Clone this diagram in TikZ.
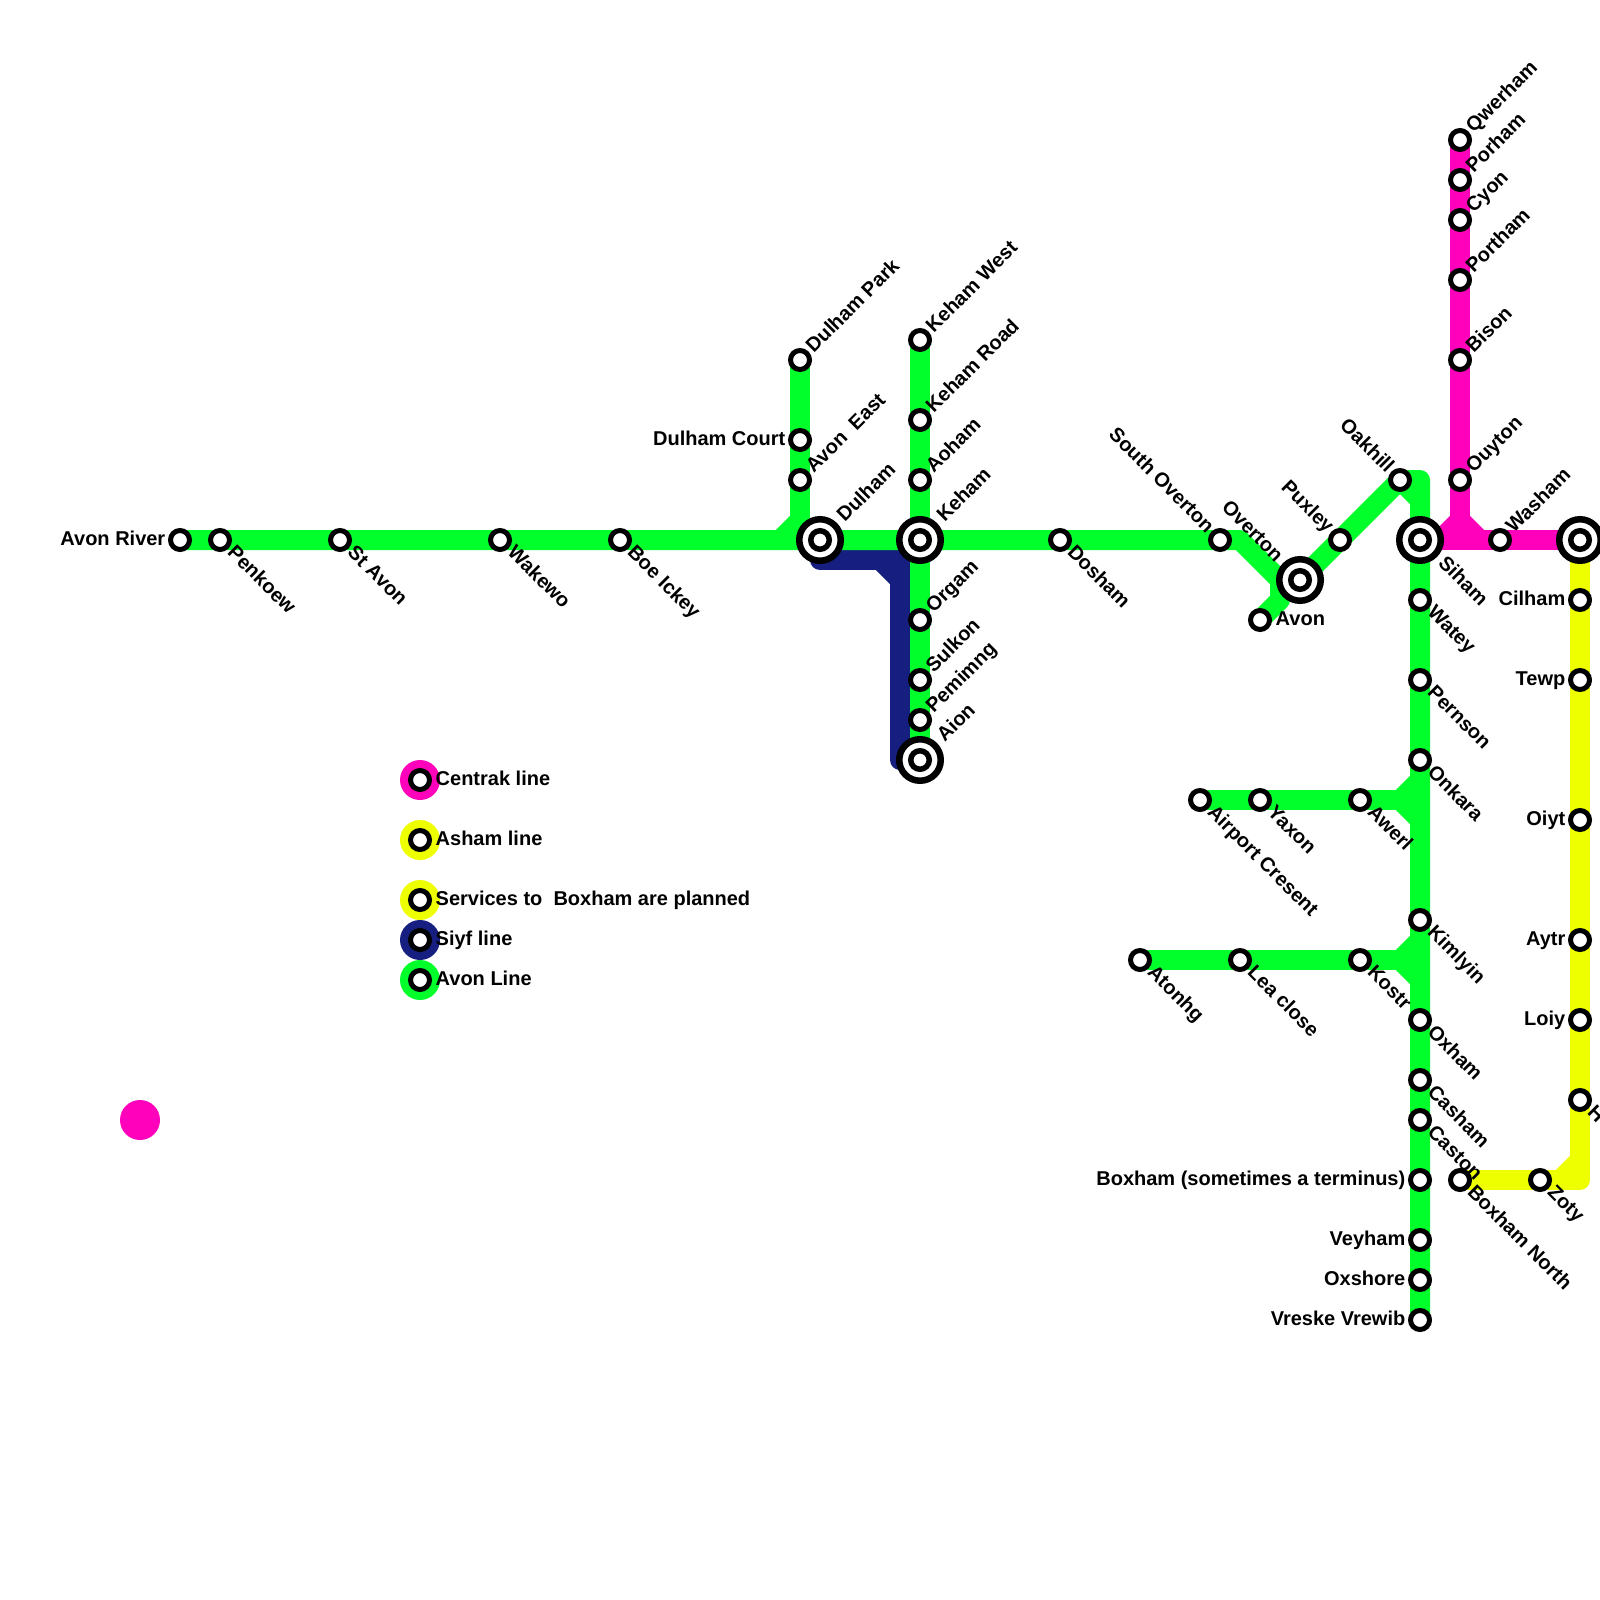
\documentclass[tikz,border=0pt]{standalone}
\usepackage{fontspec}
\setmainfont{Liberation Sans}
\usetikzlibrary{backgrounds}
\definecolor{avongreen}{HTML}{00FF2B}
\definecolor{centrakpink}{HTML}{FF00BB}
\definecolor{ashamyellow}{HTML}{EEFF00}
\definecolor{siyfblue}{HTML}{161F7F}
\begin{document}
\begin{tikzpicture}[
  x=1mm, y=-1mm,
  every node/.style={font=\fontsize{5.69pt}{6pt}\selectfont\bfseries},
  stn/.style={circle, draw=black, fill=white, line width=0.5mm, minimum size=1.9mm, inner sep=0pt},
  hub/.style={circle, draw=black, fill=white, line width=0.65mm, minimum size=4.15mm, inner sep=0pt},
  hubin/.style={circle, draw=black, fill=white, line width=0.55mm, minimum size=1.85mm, inner sep=0pt},
  dot/.style={circle, fill=#1, minimum size=4mm, inner sep=0pt},
  line/.style={line width=2mm, line join=round, line cap=butt, draw=#1},
  lne/.style={rotate=45, yshift=-0.55mm, anchor=base west, inner xsep=1.35mm, inner ysep=0pt},
  lse/.style={rotate=-45, yshift=-0.5mm, anchor=base west, inner xsep=1.35mm, inner ysep=0pt},
  lnw/.style={rotate=-45, yshift=-0.55mm, anchor=base east, inner xsep=1.35mm, inner ysep=0pt},
  lhe/.style={rotate=45, yshift=-0.55mm, anchor=base west, inner xsep=2.9mm, inner ysep=0pt},
  lsh/.style={rotate=-45, yshift=-0.5mm, anchor=base west, inner xsep=2.9mm, inner ysep=0pt},
  lhw/.style={rotate=-45, yshift=-0.55mm, anchor=base east, inner xsep=2.9mm, inner ysep=0pt},
  lleft/.style={anchor=base east, inner xsep=1.4mm, inner ysep=0pt, yshift=-0.5mm},
  lright/.style={anchor=base west, inner xsep=1.5mm, inner ysep=0pt, yshift=-0.5mm},
  keytxt/.style={anchor=base west, inner sep=0pt, yshift=-0.5mm}
]
  \clip (0,0) rectangle (160,160);

  % legend
  \node[dot=centrakpink] (dotcentrak) at (42,78) {};
  \node[dot=ashamyellow] (dotasham) at (42,84) {};
  \node[dot=ashamyellow] (dotplanned) at (42,90) {};
  \node[dot=siyfblue] (dotsiyf) at (42,94) {};
  \node[dot=avongreen] (dotavon) at (42,98) {};
  \node[dot=centrakpink] (dotlone) at (14,112) {};
  \node[stn] (keycentrak) at (42,78) {};
  \node[stn] (keyasham) at (42,84) {};
  \node[stn] (keyplanned) at (42,90) {};
  \node[stn] (keysiyf) at (42,94) {};
  \node[stn] (keyavon) at (42,98) {};
  \node[keytxt] (txtcentrak) at (43.5,78) {Centrak line};
  \node[keytxt] (txtasham) at (43.5,84) {Asham line};
  \node[keytxt] (txtplanned) at (43.5,90) {Services to\ \ Boxham are planned};
  \node[keytxt] (txtsiyf) at (43.5,94) {Siyf line};
  \node[keytxt] (txtavon) at (43.5,98) {Avon Line};

  % main east-west stations
  \node[stn] (avonriver) at (18,54) {}; \node[lleft] (lavonriver) at (18,54) {Avon River};
  \node[stn] (penkoew) at (22,54) {}; \node[lse] (lpenkoew) at (22,54) {Penkoew};
  \node[stn] (stavon) at (34,54) {}; \node[lse] (lstavon) at (34,54) {St Avon};
  \node[stn] (wakewo) at (50,54) {}; \node[lse] (lwakewo) at (50,54) {Wakewo};
  \node[stn] (boeickey) at (62,54) {}; \node[lse] (lboeickey) at (62,54) {Boe Ickey};
  \node[hub] (dulham) at (82,54) {}; \node[hubin] (dulhamin) at (82,54) {}; \node[lhe] (ldulham) at (82,54) {Dulham};
  \node[hub] (keham) at (92,54) {}; \node[hubin] (kehamin) at (92,54) {}; \node[lhe] (lkeham) at (92,54) {Keham};
  \node[stn] (dosham) at (106,54) {}; \node[lse] (ldosham) at (106,54) {Dosham};
  \node[stn] (southoverton) at (122,54) {}; \node[lnw] (lsouthoverton) at (122,54) {South Overton};
  \node[hub] (overton) at (130,58) {}; \node[hubin] (overtonin) at (130,58) {}; \node[lhw] (loverton) at (130,58) {Overton};
  \node[stn] (avon) at (126,62) {}; \node[lright] (lavon) at (126,62) {Avon};
  \node[stn] (puxley) at (134,54) {}; \node[lnw] (lpuxley) at (134,54) {Puxley};
  \node[stn] (oakhill) at (140,48) {}; \node[lnw] (loakhill) at (140,48) {Oakhill};

  % dulham branch
  \node[stn] (dulhampark) at (80,36) {}; \node[lne] (ldulhampark) at (80,36) {Dulham Park};
  \node[stn] (dulhamcourt) at (80,44) {}; \node[lleft] (ldulhamcourt) at (80,44) {Dulham Court};
  \node[stn] (avoneast) at (80,48) {}; \node[lne] (lavoneast) at (80,48) {Avon\ \ East};

  % keham branch
  \node[stn] (kehamwest) at (92,34) {}; \node[lne] (lkehamwest) at (92,34) {Keham West};
  \node[stn] (kehamroad) at (92,42) {}; \node[lne] (lkehamroad) at (92,42) {Keham Road};
  \node[stn] (aoham) at (92,48) {}; \node[lne] (laoham) at (92,48) {Aoham};
  \node[stn] (orgam) at (92,62) {}; \node[lne] (lorgam) at (92,62) {Orgam};
  \node[stn] (sulkon) at (92,68) {}; \node[lne] (lsulkon) at (92,68) {Sulkon};
  \node[stn] (pemimng) at (92,72) {}; \node[lne] (lpemimng) at (92,72) {Pemimng};
  \node[hub] (aion) at (92,76) {}; \node[hubin] (aionin) at (92,76) {}; \node[lhe] (laion) at (92,76) {Aion};

  % north-south trunk
  \node[hub] (siham) at (142,54) {}; \node[hubin] (sihamin) at (142,54) {}; \node[lsh] (lsiham) at (142,54) {Siham};
  \node[stn] (watey) at (142,60) {}; \node[lse] (lwatey) at (142,60) {Watey};
  \node[stn] (pernson) at (142,68) {}; \node[lse] (lpernson) at (142,68) {Pernson};
  \node[stn] (onkara) at (142,76) {}; \node[lse] (lonkara) at (142,76) {Onkara};
  \node[stn] (kimlyin) at (142,92) {}; \node[lse] (lkimlyin) at (142,92) {Kimlyin};
  \node[stn] (oxham) at (142,102) {}; \node[lse] (loxham) at (142,102) {Oxham};
  \node[stn] (casham) at (142,108) {}; \node[lse] (lcasham) at (142,108) {Casham};
  \node[stn] (caston) at (142,112) {}; \node[lse] (lcaston) at (142,112) {Caston};
  \node[stn] (boxham) at (142,118) {}; \node[lleft] (lboxham) at (142,118) {Boxham (sometimes a terminus)};
  \node[stn] (veyham) at (142,124) {}; \node[lleft] (lveyham) at (142,124) {Veyham};
  \node[stn] (oxshore) at (142,128) {}; \node[lleft] (loxshore) at (142,128) {Oxshore};
  \node[stn] (vreske) at (142,132) {}; \node[lleft] (lvreske) at (142,132) {Vreske Vrewib};

  % side branches
  \node[stn] (airport) at (120,80) {}; \node[lse] (lairport) at (120,80) {Airport Cresent};
  \node[stn] (yaxon) at (126,80) {}; \node[lse] (lyaxon) at (126,80) {Yaxon};
  \node[stn] (awerl) at (136,80) {}; \node[lse] (lawerl) at (136,80) {Awerl};
  \node[stn] (atonhg) at (114,96) {}; \node[lse] (latonhg) at (114,96) {Atonhg};
  \node[stn] (leaclose) at (124,96) {}; \node[lse] (lleaclose) at (124,96) {Lea close};
  \node[stn] (kostr) at (136,96) {}; \node[lse] (lkostr) at (136,96) {Kostr};

  % centrak line
  \node[stn] (qwerham) at (146,14) {}; \node[lne] (lqwerham) at (146,14) {Qwerham};
  \node[stn] (porham) at (146,18) {}; \node[lne] (lporham) at (146,18) {Porham};
  \node[stn] (cyon) at (146,22) {}; \node[lne] (lcyon) at (146,22) {Cyon};
  \node[stn] (portham) at (146,28) {}; \node[lne] (lportham) at (146,28) {Portham};
  \node[stn] (bison) at (146,36) {}; \node[lne] (lbison) at (146,36) {Bison};
  \node[stn] (ouyton) at (146,48) {}; \node[lne] (louyton) at (146,48) {Ouyton};
  \node[stn] (washam) at (150,54) {}; \node[lne] (lwasham) at (150,54) {Washam};

  % asham line
  \node[hub] (eastend) at (158,54) {}; \node[hubin] (eastendin) at (158,54) {};
  \node[stn] (cilham) at (158,60) {}; \node[lleft] (lcilham) at (158,60) {Cilham};
  \node[stn] (tewp) at (158,68) {}; \node[lleft] (ltewp) at (158,68) {Tewp};
  \node[stn] (oiyt) at (158,82) {}; \node[lleft] (loiyt) at (158,82) {Oiyt};
  \node[stn] (aytr) at (158,94) {}; \node[lleft] (laytr) at (158,94) {Aytr};
  \node[stn] (loiy) at (158,102) {}; \node[lleft] (lloiy) at (158,102) {Loiy};
  \node[stn] (hstop) at (158,110) {}; \node[lse] (lhstop) at (158,110) {H};
  \node[stn] (zoty) at (154,118) {}; \node[lse] (lzoty) at (154,118) {Zoty};
  \node[stn] (boxhamnorth) at (146,118) {}; \node[lse] (lboxhamnorth) at (146,118) {Boxham North};

  % bends and splices
  \coordinate (dulhamtee) at (80,54);
  \coordinate (dulhamfork) at (78,54);
  \coordinate (dulhamup) at (80,52);
  \coordinate (siyfdrop) at (82,56);
  \coordinate (siyfcorner) at (90,56);
  \coordinate (siyfbendw) at (88,56);
  \coordinate (siyfbends) at (90,58);
  \coordinate (siyfend) at (90,76);
  \coordinate (overtonbend) at (124,54);
  \coordinate (overtonfork) at (128,58);
  \coordinate (avonbend) at (128,60);
  \coordinate (oakhillcorner) at (142,48);
  \coordinate (oakhillfork) at (142,50);
  \coordinate (awerlfork) at (140,80);
  \coordinate (awerljoin) at (142,80);
  \coordinate (awerlup) at (142,78);
  \coordinate (awerldown) at (142,82);
  \coordinate (kostrfork) at (140,96);
  \coordinate (kostrjoin) at (142,96);
  \coordinate (kostrup) at (142,94);
  \coordinate (kostrdown) at (142,98);
  \coordinate (centrakfoot) at (146,54);
  \coordinate (centrakup) at (146,52);
  \coordinate (centrakwest) at (144,54);
  \coordinate (centrakeast) at (148,54);
  \coordinate (ashamcorner) at (158,118);
  \coordinate (ashamfork) at (156,118);
  \coordinate (ashamup) at (158,116);

  \begin{pgfonlayer}{background}
    \draw[line=siyfblue] (dulham.center)--(siyfdrop)--(siyfcorner)--(siyfend)--(aion.center);
    \draw[line=siyfblue] (siyfbendw)--(siyfbends);
    \draw[line=avongreen] (avonriver.center)--(southoverton.center)--(overtonbend)--(overtonfork)--(overton.center);
    \draw[line=avongreen] (avon.center)--(avonbend)--(overtonfork);
    \draw[line=avongreen] (overton.center)--(oakhill.center)--(oakhillcorner)--(vreske.center);
    \draw[line=avongreen] (oakhill.center)--(oakhillfork);
    \draw[line=avongreen] (dulhampark.center)--(dulhamtee);
    \draw[line=avongreen] (dulhamfork)--(dulhamup);
    \draw[line=avongreen] (kehamwest.center)--(aion.center);
    \draw[line=avongreen] (airport.center)--(awerljoin);
    \draw[line=avongreen] (awerlup)--(awerlfork)--(awerldown);
    \draw[line=avongreen] (atonhg.center)--(kostrjoin);
    \draw[line=avongreen] (kostrup)--(kostrfork)--(kostrdown);
    \draw[line=centrakpink] (qwerham.center)--(centrakfoot);
    \draw[line=centrakpink] (siham.center)--(eastend.center);
    \draw[line=centrakpink] (centrakwest)--(centrakup)--(centrakeast);
    \draw[line=ashamyellow] (eastend.center)--(ashamcorner)--(boxhamnorth.center);
    \draw[line=ashamyellow] (ashamfork)--(ashamup);
  \end{pgfonlayer}
\end{tikzpicture}
\end{document}
